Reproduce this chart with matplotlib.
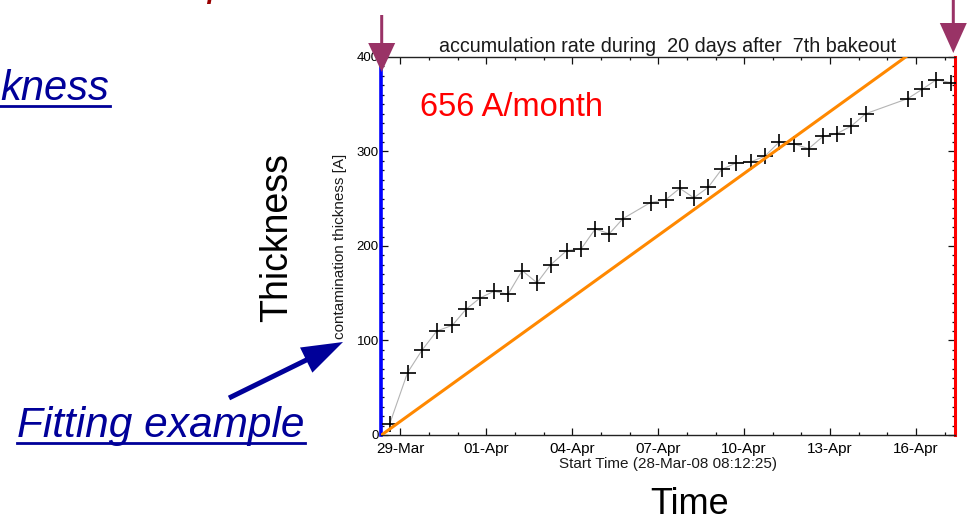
import numpy as np
import pandas as pd
import matplotlib
matplotlib.use('Agg')
import matplotlib.pyplot as plt
from matplotlib.patches import FancyArrow
from matplotlib.ticker import FixedLocator, MultipleLocator

plt.rcParams['font.family'] = 'Liberation Sans'

# contamination measurements (days after start time, thickness in A)
elapsedDays = [0.29, 0.91, 1.42, 1.93, 2.47, 2.95, 3.44, 3.92, 4.42, 4.91,
               5.43, 5.90, 6.46, 6.97, 7.46, 7.95, 8.43, 9.39, 9.92, 10.41,
               10.90, 11.40, 11.87, 12.39, 12.89, 13.38, 13.88, 14.39, 14.91, 15.41,
               15.90, 16.40, 16.90, 18.37, 18.88, 19.37, 19.86]
thickness = [12, 66, 90, 110, 116, 133, 145, 152, 149, 174,
             161, 180, 195, 197, 218, 213, 229, 246, 249, 261,
             251, 262, 281, 288, 289, 295, 310, 308, 303, 316,
             319, 327, 340, 356, 366, 376, 373]

# fitted rate
ratePerMonth = 656
fitDays = np.array([0, 20])
fitThickness = fitDays * ratePerMonth / 30.0

startTime = pd.Timestamp('2008-03-28 08:12:25')
tickLabels = ['29-Mar', '01-Apr', '04-Apr', '07-Apr', '10-Apr', '13-Apr', '16-Apr']
tickDates = pd.to_datetime([t + '-2008' for t in tickLabels], format='%d-%b-%Y')
tickPos = (tickDates - startTime) / pd.Timedelta(days=1)

fig = plt.figure(figsize=(9.67, 5.21), dpi=100)
ax = fig.add_axes([0.3945, 0.1651, 0.5926, 0.7255])

ax.plot(elapsedDays, thickness, color='#b4b4b4', lw=0.8, zorder=2)
ax.plot(elapsedDays, thickness, ls='none', marker='+', ms=11, mew=1.2, color='black', zorder=3)
ax.plot(fitDays, fitThickness, color='#ff8800', lw=2.2, zorder=4)

ax.set_xlim(0, 20)
ax.set_ylim(0, 400)

ax.xaxis.set_major_locator(FixedLocator(tickPos))
ax.set_xticklabels(tickLabels)
ax.xaxis.set_minor_locator(FixedLocator(np.arange(tickPos[0] % 1, 20, 1)))
ax.yaxis.set_major_locator(MultipleLocator(100))
ax.yaxis.set_minor_locator(MultipleLocator(10))

ax.tick_params(which='both', direction='in', top=True, right=True, color='#111111', width=0.9)
ax.tick_params(which='major', length=4.8)
ax.tick_params(which='minor', length=2.5)
ax.tick_params(axis='x', labelsize=11, pad=5)
ax.tick_params(axis='y', labelsize=9.5, pad=2)

ax.spines['left'].set_color('#0000ff')
ax.spines['left'].set_linewidth(2.6)
ax.spines['right'].set_color('#ff0000')
ax.spines['right'].set_linewidth(2.2)
for s in ['top', 'bottom']:
    ax.spines[s].set_color('#222222')
    ax.spines[s].set_linewidth(1.0)

ax.set_title('accumulation rate during  20 days after  7th bakeout', fontsize=14.2, pad=3.6, color='#1a1a1a')
ax.set_xlabel('Start Time (28-Mar-08 08:12:25)', fontsize=11, labelpad=1, color='#1a1a1a')
ax.set_ylabel('contamination thickness [A]', fontsize=11, labelpad=7, color='#1a1a1a')

ax.text(0.067, 0.844, '%d A/month' % ratePerMonth, transform=ax.transAxes,
        color='#ff0000', fontsize=23.5, va='baseline')

# slide overlay in pixel coordinates
ov = fig.add_axes([0, 0, 1, 1])
ov.set_xlim(0, 967)
ov.set_ylim(521, 0)
ov.axis('off')
ov.patch.set_alpha(0)

blue = '#000099'
purple = '#993366'

ov.text(0, 100, 'kness', fontsize=30, style='italic', color=blue, va='baseline', ha='left')
ov.plot([0, 110], [106, 106], color=blue, lw=2)
ov.text(17, 437, 'Fitting example', fontsize=30.5, style='italic', color=blue, va='baseline', ha='left')
ov.plot([17, 305], [443, 443], color=blue, lw=2)
# bit of a cut-off line at the very top of the slide
ov.text(207, -5.5, 'p', fontsize=30, style='italic', color='#990000', va='baseline')

ov.text(277, 238, 'Thickness', rotation=90, fontsize=27, ha='center', va='center')
ov.text(690, 505, 'Time', fontsize=26, ha='center', va='center')

ov.add_patch(FancyArrow(229, 398, 114, -56, width=5, head_width=28, head_length=41,
                        length_includes_head=True, color=blue, lw=0))
ov.add_patch(FancyArrow(381.7, 15, 0, 57, width=3, head_width=27, head_length=29,
                        length_includes_head=True, color=purple, lw=0))
ov.add_patch(FancyArrow(953.3, -5, 0, 58, width=3, head_width=27, head_length=30,
                        length_includes_head=True, color=purple, lw=0))

fig.savefig('out.png', dpi=100)
